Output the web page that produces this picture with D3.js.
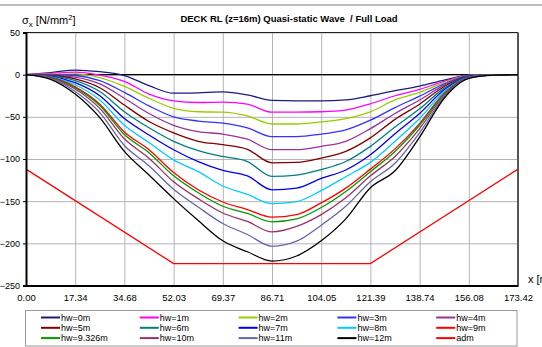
<!DOCTYPE html>
<html><head><meta charset="utf-8">
<script src="https://cdn.jsdelivr.net/npm/d3@7/dist/d3.min.js"></script>
<style>
html,body{margin:0;padding:0;background:#fff;overflow:hidden}
svg{display:block;font-family:Arial,"Liberation Sans",Helvetica,sans-serif}
</style></head><body>
<svg id="chart" width="542" height="347"></svg>
<script>
// Longitudinal stress along the deck, x in metres, stress in N/mm²
const xPos = [0, 8.67, 17.34, 26.01, 34.68, 43.35, 52.03, 60.70, 69.37, 78.04, 86.71, 95.38, 104.05, 112.72, 121.39, 130.07, 138.74, 147.41, 156.08, 164.75, 173.42];

const hw0    = [0, 2.5, 5.5, 3.5, -1, -13, -22, -21.5, -20.5, -24, -30.5, -31, -31, -30, -25, -19, -13.5, -6.5, -0.5, 0, 0];
const hw1    = [0, 1.5, 3, -0.5, -8, -23, -31, -33, -32.5, -35, -44.5, -44.5, -44, -42, -34.5, -25, -17.5, -8, -0.8, 0, 0];
const hw2    = [0, 0.5, 1, -3.5, -14, -28, -40, -44, -44.5, -49, -58.5, -58.5, -56, -52, -44, -30, -21, -9.5, -1, -0.1, 0];
const hw3    = [0, 0, -1, -7, -21, -37, -50, -55, -57.5, -63, -73.5, -73.5, -70.5, -65.5, -54, -39, -25.5, -11, -1.2, -0.1, 0];
const hw4    = [0, -0.5, -3, -11, -28, -46, -60, -67.5, -70.5, -76.5, -89, -89, -85, -79, -64, -46, -30, -12.5, -1.5, -0.2, 0];
const hw5    = [0, -1, -5, -15.5, -36, -55.5, -69, -79, -83, -88.5, -104.5, -104, -99, -91, -75, -53, -35, -14, -1.8, -0.2, 0];
const hw6    = [0, -1.5, -7, -20, -44, -63, -79, -90, -97, -103, -120.5, -119, -112.5, -103, -85, -62, -40.5, -16, -2, -0.3, 0];
const hw7    = [0, -2, -9.5, -25, -52, -71.5, -89, -103, -113.5, -120, -136.5, -134.5, -123, -113, -95, -70, -46, -18, -2.4, -0.3, 0];
const hw8    = [0, -2.5, -12, -30, -60, -80.5, -101, -115, -132, -142, -153, -150.5, -137.5, -121, -104, -79, -52, -20, -2.8, -0.4, 0];
const hw9    = [0, -3, -14.5, -35, -68, -89, -116, -136.5, -151, -160, -169, -166, -152, -134.5, -112, -88, -58, -22, -3.2, -0.4, 0];
const hw9326 = [0, -3.5, -15.5, -36.5, -71, -92.5, -120, -140, -156, -164.5, -174.5, -171, -157.5, -138.5, -115, -91, -60, -23, -3.4, -0.4, 0];
const hw10   = [0, -4, -17, -40, -76, -99, -127, -147, -164, -174, -186.5, -180, -166, -146, -120, -97, -64, -24.5, -3.7, -0.5, 0];
const hw11   = [0, -4.5, -20, -45, -84, -108, -136, -157, -176.5, -189.5, -203.5, -197.5, -178.5, -156, -127, -105, -69, -26, -4, -0.5, 0];
const hw12   = [0, -5.5, -23, -51, -91, -119, -147, -173, -197, -210, -221, -215, -197, -171, -134, -114, -74, -28, -4.5, -0.5, 0];

// Admissible stress envelope
const admX = [0, 52.03, 121.39, 173.42];
const adm  = [-112, -224, -224, -112];

const seriesNames  = ["hw=0m", "hw=1m", "hw=2m", "hw=3m", "hw=4m",
                      "hw=5m", "hw=6m", "hw=7m", "hw=8m", "hw=9m",
                      "hw=9.326m", "hw=10m", "hw=11m", "hw=12m", "adm"];
const seriesColors = ["#1a1a80", "#ff00ff", "#99cc00", "#3333ff", "#993399",
                      "#800000", "#008080", "#0000ee", "#00ccff", "#ff0000",
                      "#009900", "#993366", "#6666aa", "#000000", "#ff0000"];

const xTicks = [0, 17.34, 34.68, 52.03, 69.37, 86.71, 104.05, 121.39, 138.74, 156.08, 173.42];
const yTicks = [50, 0, -50, -100, -150, -200, -250];

const stressSeries = [hw0, hw1, hw2, hw3, hw4, hw5, hw6, hw7, hw8, hw9, hw9326, hw10, hw11, hw12];

const svg = d3.select("#chart");
const L = 26, R = 518, T = 32.5, B = 285.5;

const x = d3.scaleLinear().domain([0, 173.42]).range([L, R]);
const y = d3.scaleLinear().domain([-250, 50]).range([B, T]);

// outer frame stripe
svg.append("line").attr("x1", 0).attr("x2", 542).attr("y1", 5).attr("y2", 5)
  .attr("stroke", "#bdbdbd").attr("stroke-width", 2);

// grid
svg.append("g").attr("transform", `translate(0,${B})`)
  .call(d3.axisBottom(x).tickValues(xTicks).tickSize(-(B - T)).tickFormat(""))
  .call(g => g.select(".domain").remove())
  .call(g => g.selectAll("line").attr("stroke", "#b4b4b4").attr("stroke-width", 1));
svg.append("g").attr("transform", `translate(${L},0)`)
  .call(d3.axisLeft(y).tickValues(yTicks).tickSize(-(R - L)).tickFormat(""))
  .call(g => g.select(".domain").remove())
  .call(g => g.selectAll("line").attr("stroke", "#b4b4b4").attr("stroke-width", 1));

// zero line
svg.append("line").attr("x1", L).attr("x2", R).attr("y1", y(0)).attr("y2", y(0))
  .attr("stroke", "#000").attr("stroke-width", 1.3);

// plot border
svg.append("line").attr("x1", L).attr("x2", R).attr("y1", T).attr("y2", T).attr("stroke", "#222").attr("stroke-width", 1);
svg.append("line").attr("x1", R).attr("x2", R).attr("y1", T).attr("y2", B).attr("stroke", "#555").attr("stroke-width", 2);

// curves
const line = d3.line().x((d, i) => x(xPos[i])).y(d => y(d)).curve(d3.curveMonotoneX);
const plot = svg.append("g");
stressSeries.forEach((vals, k) => {
  plot.append("path").datum(vals).attr("d", line)
    .attr("fill", "none").attr("stroke", seriesColors[k]).attr("stroke-width", 1.3);
});
plot.append("path").datum(adm)
  .attr("d", d3.line().x((d, i) => x(admX[i])).y(d => y(d)))
  .attr("fill", "none").attr("stroke", seriesColors[14]).attr("stroke-width", 1.3);

// axes
svg.append("g").attr("transform", `translate(${L},0)`)
  .call(d3.axisLeft(y).tickValues(yTicks).tickSize(3).tickPadding(3).tickFormat(d3.format("d")))
  .call(g => g.select(".domain").attr("stroke", "#000").attr("stroke-width", 2))
  .call(g => g.selectAll("text").attr("font-size", "9px").attr("fill", "#000").attr("font-family", "Arial, 'Liberation Sans', sans-serif"));
svg.append("g").attr("transform", `translate(0,${B})`)
  .call(d3.axisBottom(x).tickValues(xTicks).tickSize(0).tickPadding(9).tickFormat(d3.format(".2f")))
  .call(g => g.select(".domain").attr("stroke", "#000").attr("stroke-width", 2))
  .call(g => g.selectAll("text").attr("font-size", "9.5px").attr("fill", "#000").attr("font-family", "Arial, 'Liberation Sans', sans-serif"));

// titles
const yt = svg.append("text").attr("x", 22).attr("y", 24).attr("font-size", "11px").attr("fill", "#000");
yt.append("tspan").text("σ");
yt.append("tspan").attr("font-size", "8px").attr("dy", 3).text("x");
yt.append("tspan").attr("dy", -3).text(" [N/mm");
yt.append("tspan").attr("font-size", "7.5px").attr("dy", -4).text("2");
yt.append("tspan").attr("dy", 4).text("]");

svg.append("text").attr("x", 289).attr("y", 22).attr("text-anchor", "middle")
  .attr("font-size", "9.5px").attr("font-weight", "bold").style("white-space", "pre")
  .text("DECK RL (z=16m) Quasi-static Wave  / Full Load");

svg.append("text").attr("x", 528).attr("y", 283).attr("font-size", "11px").text("x [m]");

// legend
svg.append("rect").attr("x", 25.5).attr("y", 310.5).attr("width", 491.5).attr("height", 35.5)
  .attr("fill", "#fff").attr("stroke", "#9a9a9a").attr("stroke-width", 1);
const leg = svg.append("g");
seriesNames.forEach((name, k) => {
  const col = k % 5, row = Math.floor(k / 5);
  const lx = 41 + col * 98.8, ly = 317.5 + row * 10.3;
  leg.append("line").attr("x1", lx).attr("x2", lx + 19).attr("y1", ly).attr("y2", ly)
    .attr("stroke", seriesColors[k]).attr("stroke-width", 2);
  leg.append("text").attr("x", lx + 20).attr("y", ly + 3.3).attr("font-size", "9px").text(name);
});
</script>
</body></html>
